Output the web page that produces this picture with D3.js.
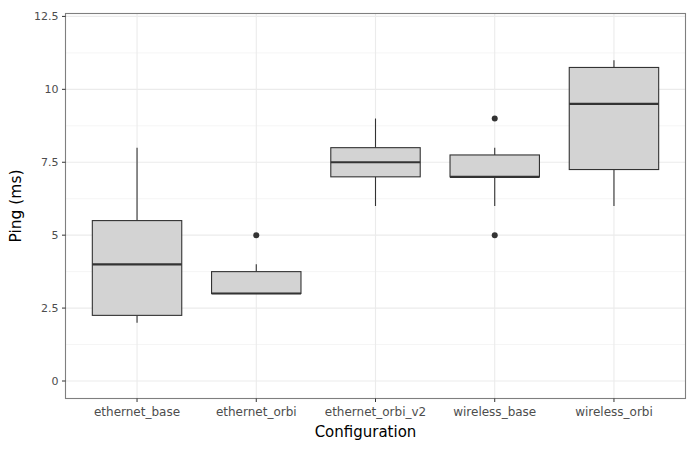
<!DOCTYPE html>
<html><head><meta charset="utf-8">
<script src="https://cdn.jsdelivr.net/npm/d3@7"></script>
<style>body{margin:0;background:#fff}svg{display:block}</style>
</head><body><svg id="c" width="695" height="449"></svg>
<script>
const categories = ["ethernet_base","ethernet_orbi","ethernet_orbi_v2","wireless_base","wireless_orbi"];
const lowerWhisker = [2, 3, 6, 6, 6];
const q1 = [2.25, 3, 7, 7, 7.25];
const median = [4, 3, 7.5, 7, 9.5];
const q3 = [5.5, 3.75, 8, 7.75, 10.75];
const upperWhisker = [8, 4, 9, 8, 11];
const outliers = [[], [5], [], [9, 5], []];
const yTicks = [0, 2.5, 5, 7.5, 10, 12.5];
const yTickLabels = ["0","2.5","5","7.5","10","12.5"];
const yMinor = [1.25, 3.75, 6.25, 8.75, 11.25];

const svg = d3.select("#c");
const L = 65.5, R = 685.5, T = 13.5, B = 398.5;
const x = d3.scaleLinear().domain([0.4, 5.6]).range([L, R]);
const y = d3.scaleLinear().domain([-0.6, 12.6]).range([B, T]);
const font = "DejaVu Sans, sans-serif";

const g = svg.append("g");
g.selectAll(".mn").data(yMinor).enter().append("line")
  .attr("x1", L).attr("x2", R).attr("y1", d => y(d)).attr("y2", d => y(d))
  .attr("stroke", "#f5f5f5").attr("stroke-width", 1);
g.selectAll(".mj").data(yTicks).enter().append("line")
  .attr("x1", L).attr("x2", R).attr("y1", d => y(d)).attr("y2", d => y(d))
  .attr("stroke", "#ebebeb").attr("stroke-width", 1.1);
g.selectAll(".vx").data(categories).enter().append("line")
  .attr("x1", (d,i) => x(i+1)).attr("x2", (d,i) => x(i+1)).attr("y1", T).attr("y2", B)
  .attr("stroke", "#ebebeb").attr("stroke-width", 1.1);

const bw = 0.75;
categories.forEach((c, i) => {
  const cx = x(i+1);
  const x0 = x(i+1 - bw/2), x1 = x(i+1 + bw/2);
  g.append("line").attr("x1", cx).attr("x2", cx).attr("y1", y(upperWhisker[i])).attr("y2", y(q3[i]))
    .attr("stroke", "#333").attr("stroke-width", 1.1);
  g.append("line").attr("x1", cx).attr("x2", cx).attr("y1", y(q1[i])).attr("y2", y(lowerWhisker[i]))
    .attr("stroke", "#333").attr("stroke-width", 1.1);
  g.append("rect").attr("x", x0).attr("y", y(q3[i])).attr("width", x1 - x0).attr("height", y(q1[i]) - y(q3[i]))
    .attr("fill", "#d3d3d3").attr("stroke", "#333").attr("stroke-width", 1.1);
  g.append("line").attr("x1", x0).attr("x2", x1).attr("y1", y(median[i])).attr("y2", y(median[i]))
    .attr("stroke", "#333").attr("stroke-width", 2.2);
  outliers[i].forEach(o => {
    g.append("circle").attr("cx", cx).attr("cy", y(o)).attr("r", 3).attr("fill", "#333");
  });
});

svg.append("rect").attr("x", L).attr("y", T).attr("width", R - L).attr("height", B - T)
  .attr("fill", "none").attr("stroke", "#7f7f7f").attr("stroke-width", 1.1);

yTicks.forEach((t, i) => {
  svg.append("line").attr("x1", L - 3.5).attr("x2", L).attr("y1", y(t)).attr("y2", y(t))
    .attr("stroke", "#333").attr("stroke-width", 1);
  svg.append("text").attr("x", L - 7).attr("y", y(t)).attr("dy", "0.35em")
    .attr("text-anchor", "end").attr("font-family", font).attr("font-size", 11)
    .attr("fill", "#4d4d4d").text(yTickLabels[i]);
});
categories.forEach((c, i) => {
  svg.append("line").attr("x1", x(i+1)).attr("x2", x(i+1)).attr("y1", B).attr("y2", B + 3.5)
    .attr("stroke", "#333").attr("stroke-width", 1);
  svg.append("text").attr("x", x(i+1)).attr("y", B + 17).attr("text-anchor", "middle")
    .attr("font-family", font).attr("font-size", 12).attr("fill", "#4d4d4d").text(c);
});
svg.append("text").attr("x", 365.5).attr("y", 437).attr("text-anchor", "middle")
  .attr("font-family", font).attr("font-size", 15).attr("fill", "#000").text("Configuration");
svg.append("text").attr("transform", `translate(21,${(T + B) / 2}) rotate(-90)`).attr("text-anchor", "middle")
  .attr("font-family", font).attr("font-size", 15.5).attr("fill", "#000").text("Ping (ms)");
</script></body></html>
